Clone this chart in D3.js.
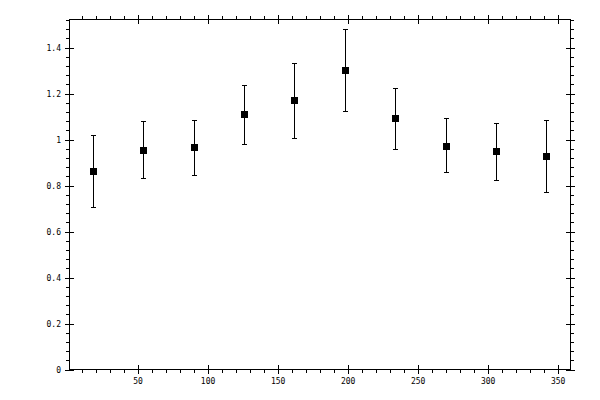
<!DOCTYPE html>
<html>
<head>
<meta charset="utf-8">
<script src="https://cdn.jsdelivr.net/npm/d3@7"></script>
<style>
  html, body { margin: 0; padding: 0; background: #fff; }
  svg { display: block; }
  .axis text { font-family: "DejaVu Sans Mono", monospace; font-size: 8px; fill: #000; }
  .axis path, .axis line { stroke: #000; stroke-width: 1; shape-rendering: crispEdges; }
</style>
</head>
<body>
<svg id="chart" width="600" height="400"></svg>
<script>
// Data
const xValues   = [18, 54, 90, 126, 162, 198, 234, 270, 306, 342];
const yValues   = [0.863, 0.953, 0.966, 1.109, 1.170, 1.304, 1.092, 0.974, 0.948, 0.927];
const yLower    = [0.705, 0.831, 0.844, 0.979, 1.005, 1.126, 0.961, 0.861, 0.822, 0.772];
const yUpper    = [1.018, 1.080, 1.084, 1.239, 1.335, 1.482, 1.222, 1.092, 1.070, 1.087];
const xMajorTicks = [50, 100, 150, 200, 250, 300, 350];
const xMinorTicks = [10, 20, 30, 40, 60, 70, 80, 90, 110, 120, 130, 140, 160, 170, 180, 190, 210, 220, 230, 240, 260, 270, 280, 290, 310, 320, 330, 340];
const yMajorTicks = [0, 0.2, 0.4, 0.6, 0.8, 1, 1.2, 1.4];
const yMinorTicks = [0.04, 0.08, 0.12, 0.16, 0.24, 0.28, 0.32, 0.36, 0.44, 0.48, 0.52, 0.56, 0.64, 0.68, 0.72, 0.76, 0.84, 0.88, 0.92, 0.96, 1.04, 1.08, 1.12, 1.16, 1.24, 1.28, 1.32, 1.36, 1.44, 1.48, 1.52];
const xDomain = [1.4, 358.8];
const yDomain = [0, 1.522];

const svg = d3.select("#chart");
const L = 69.5, R = 570, T = 19.5, B = 369.5;

const x = d3.scaleLinear().domain(xDomain).range([L, R]);
const y = d3.scaleLinear().domain(yDomain).range([B, T]);

function addAxis(axisFn, scale, ticks, size, fmt, transform, pad) {
  const a = axisFn(scale).tickValues(ticks).tickSizeInner(size).tickSizeOuter(0).tickPadding(pad || 4);
  a.tickFormat(fmt || (() => ""));
  const g = svg.append("g").attr("class", "axis").attr("transform", transform).call(a);
  g.select(".domain").remove();
  return g;
}

const yFmt = d => d3.format("~g")(d);

// Bottom
addAxis(d3.axisBottom, x, xMajorTicks, 4.5, d => d, `translate(0,${B})`, 4);
addAxis(d3.axisBottom, x, xMajorTicks, -4.5, null, `translate(0,${B})`);
addAxis(d3.axisBottom, x, xMinorTicks, 3.5, null, `translate(0,${B})`);
// Top
addAxis(d3.axisTop, x, xMajorTicks, 4.5, null, `translate(0,${T})`);
addAxis(d3.axisTop, x, xMajorTicks, -4.5, null, `translate(0,${T})`);
addAxis(d3.axisTop, x, xMinorTicks, 3.5, null, `translate(0,${T})`);
// Left
addAxis(d3.axisLeft, y, yMajorTicks, 4.5, yFmt, `translate(${L},0)`, 4);
addAxis(d3.axisLeft, y, yMajorTicks, -4.5, null, `translate(${L},0)`);
addAxis(d3.axisLeft, y, yMinorTicks, 3.5, null, `translate(${L},0)`);
// Right
addAxis(d3.axisRight, y, yMajorTicks, 4.5, null, `translate(${R},0)`);
addAxis(d3.axisRight, y, yMajorTicks, -4.5, null, `translate(${R},0)`);
addAxis(d3.axisRight, y, yMinorTicks, 3.5, null, `translate(${R},0)`);

// Frame
svg.append("rect")
  .attr("x", L).attr("y", T).attr("width", R - L).attr("height", B - T)
  .attr("fill", "none").attr("stroke", "#000").attr("stroke-width", 1)
  .attr("shape-rendering", "crispEdges");

const pts = xValues.map((xv, i) => ({x: xv, y: yValues[i], lo: yLower[i], hi: yUpper[i]}));
const g = svg.append("g").attr("shape-rendering", "crispEdges");

// Error bars
g.selectAll(".eb").data(pts).enter().append("line")
  .attr("x1", d => Math.round(x(d.x)) + 0.5).attr("x2", d => Math.round(x(d.x)) + 0.5)
  .attr("y1", d => y(d.lo)).attr("y2", d => y(d.hi))
  .attr("stroke", "#000").attr("stroke-width", 1);
g.selectAll(".capTop").data(pts).enter().append("line")
  .attr("x1", d => Math.round(x(d.x)) - 2).attr("x2", d => Math.round(x(d.x)) + 3)
  .attr("y1", d => Math.round(y(d.hi)) + 0.5).attr("y2", d => Math.round(y(d.hi)) + 0.5)
  .attr("stroke", "#000").attr("stroke-width", 1);
g.selectAll(".capBot").data(pts).enter().append("line")
  .attr("x1", d => Math.round(x(d.x)) - 2).attr("x2", d => Math.round(x(d.x)) + 3)
  .attr("y1", d => Math.round(y(d.lo)) + 0.5).attr("y2", d => Math.round(y(d.lo)) + 0.5)
  .attr("stroke", "#000").attr("stroke-width", 1);

// Markers
g.selectAll(".mk").data(pts).enter().append("rect")
  .attr("x", d => Math.round(x(d.x)) - 3)
  .attr("y", d => Math.round(y(d.y)) - 3)
  .attr("width", 7).attr("height", 7)
  .attr("fill", "#000");
</script>
</body>
</html>
